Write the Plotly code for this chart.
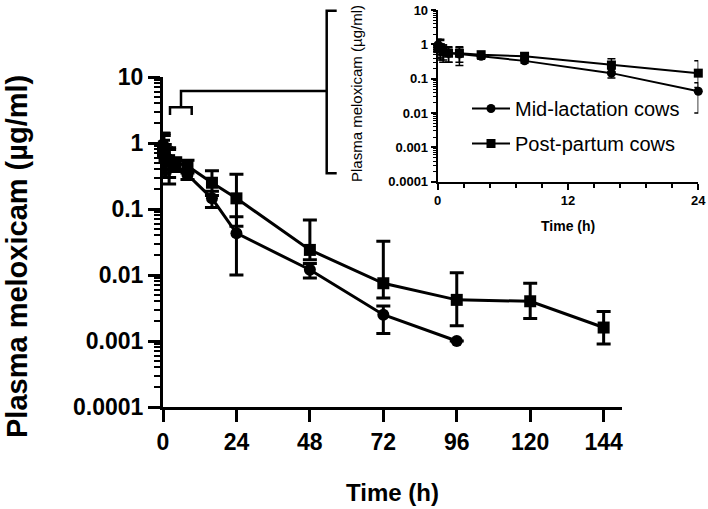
import plotly.graph_objects as go

# ---------------- data ----------------
time_mid = [0, 0.25, 0.5, 1, 2, 4, 8, 16, 24, 48, 72, 96]
conc_mid = [0.95, 0.85, 0.65, 0.55, 0.52, 0.45, 0.33, 0.145, 0.043, 0.012, 0.0025, 0.001]
err_mid_plus = [0.45, 0.45, 0.3, 0.25, 0.28, 0.08, 0.05, 0.04, 0.033, 0.003, 0.0009, 0.0]
err_mid_minus = [0.45, 0.45, 0.3, 0.25, 0.28, 0.08, 0.05, 0.04, 0.033, 0.003, 0.0012, 0.0]

time_post = [0, 0.25, 0.5, 1, 2, 4, 8, 16, 24, 48, 72, 96, 120, 144]
conc_post = [0.75, 0.8, 0.6, 0.55, 0.55, 0.5, 0.45, 0.25, 0.145, 0.024, 0.0075, 0.0042, 0.004, 0.0016]
err_post_plus = [0.35, 0.6, 0.35, 0.3, 0.3, 0.1, 0.1, 0.13, 0.19, 0.044, 0.025, 0.0066, 0.0035, 0.0012]
err_post_minus = [0.35, 0.45, 0.3, 0.25, 0.25, 0.1, 0.1, 0.09, 0.09, 0.007, 0.003, 0.0025, 0.0018, 0.0007]

series_names = ["Mid-lactation cows", "Post-partum cows"]

y_tickvals = [0.0001, 0.001, 0.01, 0.1, 1, 10]
y_ticktext = ["0.0001", "0.001", "0.01", "0.1", "1", "10"]
x_main_ticks = [0, 24, 48, 72, 96, 120, 144]
x_inset_ticks = [0, 12, 24]

# ---------------- layout helpers ----------------
W, H = 708, 509
def px(x):
    return x / W
def py(y):
    return 1 - y / H

minor_vals = [m * 10 ** e for e in range(-4, 1) for m in range(2, 10)]
FONT = "Liberation Sans, Arial, sans-serif"

fig = go.Figure()

# main plot traces
fig.add_trace(go.Scatter(
    x=time_mid, y=conc_mid, mode="lines+markers", name=series_names[0],
    line=dict(color="black", width=3),
    marker=dict(symbol="circle", size=12, color="black"),
    error_y=dict(type="data", array=err_mid_plus, arrayminus=err_mid_minus,
                 color="black", thickness=3, width=7),
    cliponaxis=False, showlegend=False, xaxis="x", yaxis="y"))
fig.add_trace(go.Scatter(
    x=time_post, y=conc_post, mode="lines+markers", name=series_names[1],
    line=dict(color="black", width=3),
    marker=dict(symbol="square", size=12, color="black"),
    error_y=dict(type="data", array=err_post_plus, arrayminus=err_post_minus,
                 color="black", thickness=3, width=7),
    cliponaxis=False, showlegend=False, xaxis="x", yaxis="y"))

# inset traces (first 24 h)
n_mid = sum(1 for t in time_mid if t <= 24)
n_post = sum(1 for t in time_post if t <= 24)
fig.add_trace(go.Scatter(
    x=time_mid[:n_mid], y=conc_mid[:n_mid], mode="lines+markers", name=series_names[0],
    line=dict(color="black", width=2),
    marker=dict(symbol="circle", size=9, color="black"),
    error_y=dict(type="data", array=err_mid_plus[:n_mid], arrayminus=err_mid_minus[:n_mid],
                 color="black", thickness=1.5, width=4),
    cliponaxis=False, legendgroup="a", xaxis="x2", yaxis="y2"))
fig.add_trace(go.Scatter(
    x=time_post[:n_post], y=conc_post[:n_post], mode="lines+markers", name=series_names[1],
    line=dict(color="black", width=2),
    marker=dict(symbol="square", size=9, color="black"),
    error_y=dict(type="data", array=err_post_plus[:n_post], arrayminus=err_post_minus[:n_post],
                 color="black", thickness=1.5, width=4),
    cliponaxis=False, legendgroup="b", xaxis="x2", yaxis="y2"))

axis_common = dict(showgrid=False, zeroline=False, showline=True, linecolor="black",
                   ticks="outside", tickcolor="black", automargin=False,
                   ticklabeloverflow="allow")

fig.update_layout(
    width=W, height=H, margin=dict(l=0, r=0, t=0, b=0),
    paper_bgcolor="white", plot_bgcolor="rgba(0,0,0,0)",
    template="none",
    font=dict(family=FONT, color="black"),
    xaxis=dict(domain=[px(163), px(622)], range=[0, 150], anchor="y",
               tickvals=x_main_ticks, ticklen=12, tickwidth=3, linewidth=3,
               tickfont=dict(size=23, weight="bold", family=FONT), **axis_common),
    yaxis=dict(domain=[py(407), py(77)], type="log", range=[-4, 1], anchor="x",
               tickvals=y_tickvals, ticktext=y_ticktext, ticklen=12, tickwidth=3, linewidth=3,
               tickfont=dict(size=23, weight="bold", family=FONT),
               minor=dict(tickmode="array", tickvals=minor_vals, ticks="outside",
                          ticklen=6, tickwidth=2, tickcolor="black", showgrid=False),
               **axis_common),
    xaxis2=dict(domain=[px(437.7), px(698.3)], range=[0, 24], anchor="y2",
                tickvals=x_inset_ticks, ticklen=6, tickwidth=2, linewidth=2,
                tickfont=dict(size=13, weight="bold", family=FONT),
                minor=dict(dtick=2.4, tick0=0, ticks="outside", ticklen=4, tickwidth=1.5,
                           tickcolor="black", showgrid=False),
                **axis_common),
    yaxis2=dict(domain=[py(181.7), py(10)], type="log", range=[-4, 1], anchor="x2",
                tickvals=y_tickvals, ticktext=y_ticktext, ticklen=5, tickwidth=2, linewidth=2,
                tickfont=dict(size=13, weight="bold", family=FONT),
                minor=dict(tickmode="array", tickvals=minor_vals, ticks="outside",
                           ticklen=3, tickwidth=1, tickcolor="black", showgrid=False),
                **axis_common),
    legend=dict(x=px(467), y=py(89), xanchor="left", yanchor="top", itemwidth=38,
                bgcolor="rgba(0,0,0,0)", font=dict(size=20, family=FONT, color="black"),
                traceorder="grouped", tracegroupgap=6),
    showlegend=True,
    hovermode=False,
)

# titles
annots = [
    dict(text="Time (h)", x=px(392.5), y=py(492), font=dict(size=24, weight="bold")),
    dict(text="Plasma meloxicam (µg/ml)", x=px(17), y=py(257), textangle=-90,
         font=dict(size=29, weight="bold")),
    dict(text="Time (h)", x=px(568), y=py(226), font=dict(size=14, weight="bold")),
    dict(text="Plasma meloxicam (µg/ml)", x=px(357), y=py(94), textangle=-90,
         font=dict(size=15)),
]
for a in annots:
    fig.add_annotation(xref="paper", yref="paper", showarrow=False,
                       xanchor="center", yanchor="middle",
                       font_family=FONT, font_color="black", **a)

# zoom bracket connecting main plot to inset
bracket_paths = [
    "M {} {} L {} {} L {} {} L {} {}".format(px(170), py(115), px(170), py(107.3),
                                             px(191.7), py(107.3), px(191.7), py(115)),
    "M {} {} L {} {} L {} {}".format(px(181), py(107.3), px(181), py(91), px(326.7), py(91)),
    "M {} {} L {} {} L {} {} L {} {}".format(px(336.7), py(10.7), px(326.7), py(10.7),
                                             px(326.7), py(173.3), px(336.7), py(173.3)),
]
for p in bracket_paths:
    fig.add_shape(type="path", path=p, xref="paper", yref="paper",
                  line=dict(color="black", width=2.5))

fig.write_html(
    "out.html",
    config={"displayModeBar": False},
    post_script="document.body.style.margin='0';document.body.style.overflow='hidden';",
)
